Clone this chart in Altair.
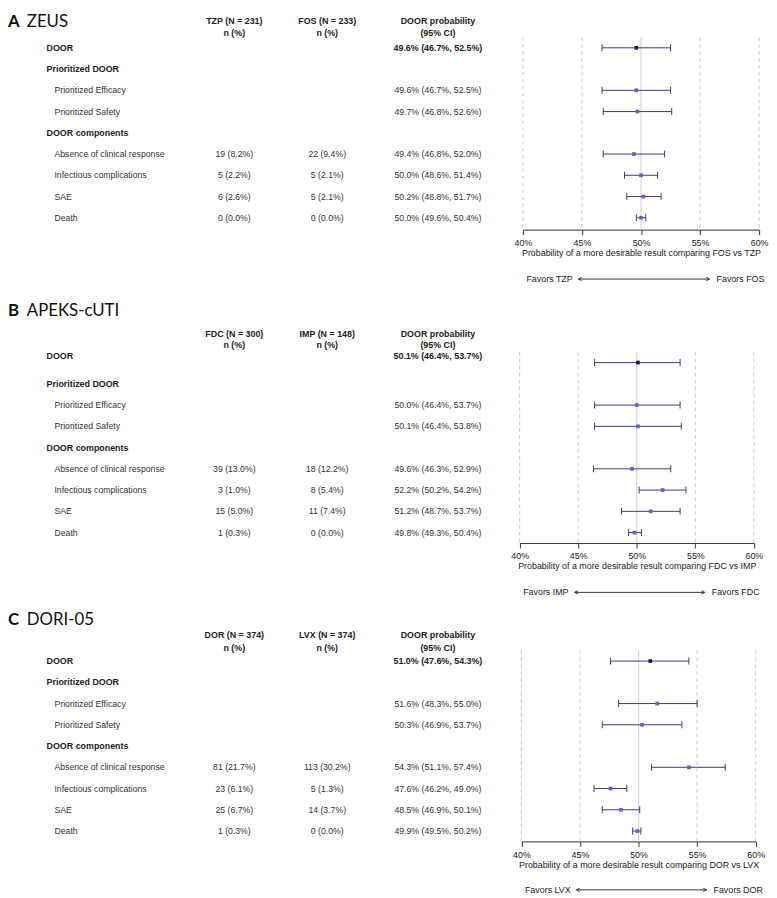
import altair as alt
import pandas as pd

# ---------------- data ----------------
ROW_LABELS = ["DOOR", "Prioritized DOOR", "Prioritized Efficacy", "Prioritized Safety",
              "DOOR components", "Absence of clinical response", "Infectious complications",
              "SAE", "Death"]
ROW_IS_SECTION = [True, True, False, False, True, False, False, False, False]
EST_ROWS = [0, 2, 3, 5, 6, 7, 8]
COUNT_ROWS = [5, 6, 7, 8]

PANEL_LETTERS = ["A", "B", "C"]
TRIAL_NAMES = ["ZEUS", "APEKS-cUTI", "DORI-05"]
ARM1 = ["TZP", "FDC", "DOR"]
ARM2 = ["FOS", "IMP", "LVX"]
N_ARM1 = [231, 300, 374]
N_ARM2 = [233, 148, 374]
COMPARE_NUM = ["FOS", "FDC", "DOR"]
COMPARE_REF = ["TZP", "IMP", "LVX"]

# ZEUS
EST_A = [49.6, 49.6, 49.7, 49.4, 50.0, 50.2, 50.0]
LO_A = [46.7, 46.7, 46.8, 46.8, 48.6, 48.8, 49.6]
HI_A = [52.5, 52.5, 52.6, 52.0, 51.4, 51.7, 50.4]
CNT1_A = [19, 5, 6, 0]
PCT1_A = [8.2, 2.2, 2.6, 0.0]
CNT2_A = [22, 5, 5, 0]
PCT2_A = [9.4, 2.1, 2.1, 0.0]

# APEKS-cUTI
EST_B = [50.1, 50.0, 50.1, 49.6, 52.2, 51.2, 49.8]
LO_B = [46.4, 46.4, 46.4, 46.3, 50.2, 48.7, 49.3]
HI_B = [53.7, 53.7, 53.8, 52.9, 54.2, 53.7, 50.4]
CNT1_B = [39, 3, 15, 1]
PCT1_B = [13.0, 1.0, 5.0, 0.3]
CNT2_B = [18, 8, 11, 0]
PCT2_B = [12.2, 5.4, 7.4, 0.0]

# DORI-05
EST_C = [51.0, 51.6, 50.3, 54.3, 47.6, 48.5, 49.9]
LO_C = [47.6, 48.3, 46.9, 51.1, 46.2, 46.9, 49.5]
HI_C = [54.3, 55.0, 53.7, 57.4, 49.0, 50.1, 50.2]
CNT1_C = [81, 23, 25, 1]
PCT1_C = [21.7, 6.1, 6.7, 0.3]
CNT2_C = [113, 5, 14, 0]
PCT2_C = [30.2, 1.3, 3.7, 0.0]

TICKS = [40, 45, 50, 55, 60]
FAVOR_ARROW = [44.7, 55.8]
FAVOR_TEXT_X = [40.3, 56.4]

TRIALS = [
    (EST_A, LO_A, HI_A, CNT1_A, PCT1_A, CNT2_A, PCT2_A),
    (EST_B, LO_B, HI_B, CNT1_B, PCT1_B, CNT2_B, PCT2_B),
    (EST_C, LO_C, HI_C, CNT1_C, PCT1_C, CNT2_C, PCT2_C),
]

# ---------------- layout / style ----------------
FONT = "Liberation Sans"
TFONT = "Lato"
ROW_H = 21.5
W = 760
LAYOUT = [
    dict(door=35, top=0, axis=219, xr=[521, 760], title=9, h1=7.5, h2=20.3, door_txt=35, door_pt=35, fav=50),
    dict(door=353.5, top=219, axis=536, xr=[517.7, 754.7], title=301, h1=325, h2=335.5, door_txt=346.5, door_pt=353.5, fav=50),
    dict(door=655.5, top=536, axis=838, xr=[519.5, 756.5], title=614, h1=629, h2=642.5, door_txt=655.5, door_pt=655.5, fav=49),
]
BAR = "#3a3a80"
PT = "#5c64c8"
PT_DOOR = "#1c1c55"
GRID = "#c6c8e6"
MID = "#d2d3e2"
TXT = "#333333"


def build_panel(i):
    L = LAYOUT[i]
    est, lo, hi, c1, p1, c2, p2 = TRIALS[i]
    door = L["door"]

    def rr(py):
        return (py - door) / ROW_H

    r_top = rr(L["top"])
    r_bot = rr(L["axis"])
    H = L["axis"] - L["top"]
    ysc = alt.Scale(domain=[r_top, r_bot], reverse=True, nice=False, zero=False)
    xsc = alt.Scale(domain=[40, 60], range=L["xr"], nice=False, zero=False)
    xaxis = alt.Axis(
        values=TICKS, labelExpr="datum.value + '%'",
        title=f"Probability of a more desirable result comparing {COMPARE_NUM[i]} vs {COMPARE_REF[i]}",
        grid=False, tickSize=5, domainColor="#333", tickColor="#333", domainWidth=1, tickWidth=1,
        labelFont=FONT, labelFontSize=9, labelColor="#222", labelPadding=4, labelFlush=False,
        titleFont=FONT, titleFontSize=9, titleFontWeight="normal", titleColor="#222", titlePadding=1,
    )

    def Y(f):
        return alt.Y(f"{f}:Q", scale=ysc, axis=None)

    def X(f):
        return alt.X(f"{f}:Q", scale=xsc, axis=xaxis)

    def txt(df, x_px, bold=False, align="center", size=8.8, color=TXT, font=FONT):
        return alt.Chart(df).mark_text(
            font=font, fontSize=size, fontWeight="bold" if bold else "normal",
            align=align, baseline="middle", color=color,
        ).encode(x=alt.value(x_px), y=Y("r"), text=alt.Text("t:N"))

    # gridlines
    grid_df = pd.DataFrame({"x": [t for t in TICKS if t != 50], "r0": -0.5, "r1": r_bot})
    mid_df = pd.DataFrame({"x": [50], "r0": -0.5, "r1": r_bot})
    grid = alt.Chart(grid_df).mark_rule(color=GRID, strokeDash=[4, 3], strokeWidth=1).encode(
        x=X("x"), y=Y("r0"), y2="r1:Q")
    mid = alt.Chart(mid_df).mark_rule(color=MID, strokeWidth=1.2).encode(
        x=X("x"), y=Y("r0"), y2="r1:Q")

    # forest
    rows = [rr(L["door_pt"]) if k == 0 else k for k in EST_ROWS]
    fdf = pd.DataFrame({"est": est, "lo": lo, "hi": hi, "r": rows,
                        "col": [PT_DOOR] + [PT] * (len(est) - 1)})
    bars = alt.Chart(fdf).mark_rule(color=BAR, strokeWidth=1).encode(x=X("lo"), x2="hi:Q", y=Y("r"))
    cap_lo = alt.Chart(fdf).mark_tick(orient="vertical", size=7, thickness=1, color=BAR, opacity=1).encode(
        x=X("lo"), y=Y("r"))
    cap_hi = alt.Chart(fdf).mark_tick(orient="vertical", size=7, thickness=1, color=BAR, opacity=1).encode(
        x=X("hi"), y=Y("r"))
    pts = alt.Chart(fdf).mark_square(size=14, filled=True, opacity=1).encode(
        x=X("est"), y=Y("r"), color=alt.Color("col:N", scale=None))

    # favors annotation
    r_f = r_bot + L["fav"] / ROW_H
    arr_df = pd.DataFrame({"x0": [FAVOR_ARROW[0]], "x1": [FAVOR_ARROW[1]], "r": [r_f]})
    arrow = alt.Chart(arr_df).mark_rule(color="#333", strokeWidth=1).encode(x=X("x0"), x2="x1:Q", y=Y("r"))
    head_r = alt.Chart(arr_df).mark_point(shape="M-1.2,-0.6L0,0L-1.2,0.6", size=30, filled=False,
                                          color="#333", strokeWidth=1, opacity=1).encode(x=X("x1"), y=Y("r"))
    head_l = alt.Chart(arr_df).mark_point(shape="M1.2,-0.6L0,0L1.2,0.6", size=30, filled=False,
                                          color="#333", strokeWidth=1, opacity=1).encode(x=X("x0"), y=Y("r"))
    fav_df = pd.DataFrame({"x": FAVOR_TEXT_X, "r": [r_f, r_f],
                           "t": [f"Favors {COMPARE_REF[i]}", f"Favors {COMPARE_NUM[i]}"]})
    fav = alt.Chart(fav_df).mark_text(font=FONT, fontSize=9, align="left", baseline="middle",
                                      color="#222").encode(x=X("x"), y=Y("r"), text="t:N")

    # table text
    lab_rows = [rr(L["door_txt"]) if k == 0 else k for k in range(len(ROW_LABELS))]
    sec_df = pd.DataFrame({"t": [ROW_LABELS[k] for k in range(9) if ROW_IS_SECTION[k]],
                           "r": [lab_rows[k] for k in range(9) if ROW_IS_SECTION[k]]})
    sub_df = pd.DataFrame({"t": [ROW_LABELS[k] for k in range(9) if not ROW_IS_SECTION[k]],
                           "r": [lab_rows[k] for k in range(9) if not ROW_IS_SECTION[k]]})
    c1_df = pd.DataFrame({"t": [f"{n} ({p:.1f}%)" for n, p in zip(c1, p1)], "r": COUNT_ROWS})
    c2_df = pd.DataFrame({"t": [f"{n} ({p:.1f}%)" for n, p in zip(c2, p2)], "r": COUNT_ROWS})
    ptxt = [f"{e:.1f}% ({a:.1f}%, {b:.1f}%)" for e, a, b in zip(est, lo, hi)]
    pr_bold = pd.DataFrame({"t": ptxt[:1], "r": [rr(L["door_txt"])]})
    pr_norm = pd.DataFrame({"t": ptxt[1:], "r": EST_ROWS[1:]})
    h1, h2 = rr(L["h1"]), rr(L["h2"])
    hd1 = pd.DataFrame({"t": [f"{ARM1[i]} (N = {N_ARM1[i]})", "n (%)"], "r": [h1, h2]})
    hd2 = pd.DataFrame({"t": [f"{ARM2[i]} (N = {N_ARM2[i]})", "n (%)"], "r": [h1, h2]})
    hd3 = pd.DataFrame({"t": ["DOOR probability", "(95% CI)"], "r": [h1, h2]})
    tl = pd.DataFrame({"t": [PANEL_LETTERS[i]], "r": [rr(L["title"])]})
    tn = pd.DataFrame({"t": [TRIAL_NAMES[i]], "r": [rr(L["title"])]})

    layers = [
        grid, mid, bars, cap_lo, cap_hi, pts, arrow, head_l, head_r, fav,
        txt(sec_df, 39, bold=True, align="left", size=9, color="#222"),
        txt(sub_df, 47, align="left"),
        txt(c1_df, 229), txt(c2_df, 323),
        txt(pr_bold, 435, bold=True, size=9, color="#222"),
        txt(pr_norm, 435),
        txt(hd1, 229, bold=True, size=9, color="#222"),
        txt(hd2, 323, bold=True, size=9, color="#222"),
        txt(hd3, 435, bold=True, size=9, color="#222"),
        txt(tl, 0, bold=True, align="left", size=17, color="#111", font=TFONT),
        txt(tn, 19, align="left", size=17, color="#111", font=TFONT),
    ]
    return alt.layer(*layers).properties(width=W, height=H)


chart = alt.vconcat(*[build_panel(i) for i in range(3)], spacing=0, bounds="flush").properties(
    padding=0
).configure_view(stroke=None)

chart.save("out.html", embed_options={"renderer": "svg", "actions": False})
